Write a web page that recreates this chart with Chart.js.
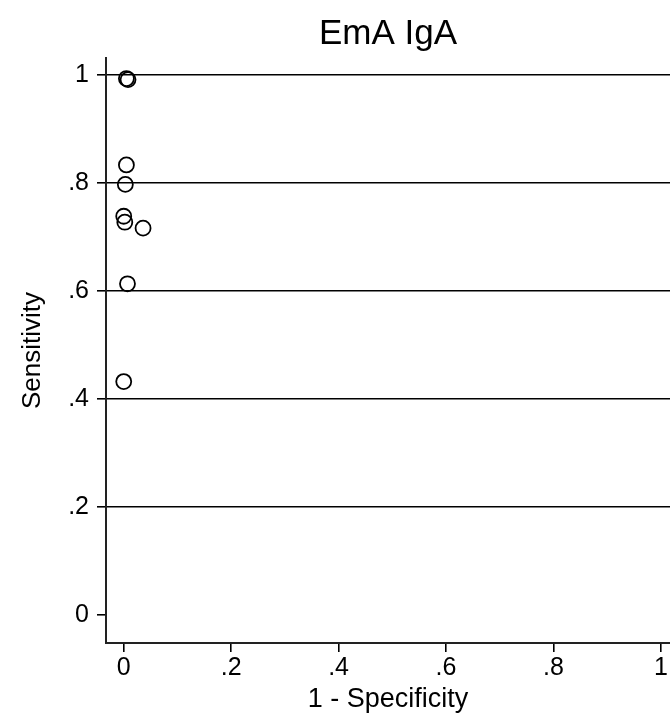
<!DOCTYPE html>
<html>
<head>
<meta charset="utf-8">
<script src="https://cdn.jsdelivr.net/npm/chart.js@4"></script>
<style>
  body { margin: 0; background: #fff; }
  canvas { display: block; }
</style>
</head>
<body>
<canvas id="roc-chart" width="670" height="717"></canvas>
<script>
// 1 - specificity (x) and sensitivity (y) of each study
const fpr = [0.005, 0.008, 0.005, 0.003, 0.0, 0.002, 0.036, 0.007, 0.0];
const sens = [0.993, 0.991, 0.833, 0.797, 0.738, 0.727, 0.716, 0.613, 0.432];

const tickVals = [0, 0.2, 0.4, 0.6, 0.8, 1];
const tickLabels = ["0", ".2", ".4", ".6", ".8", "1"];

const font = "'Liberation Sans', Arial, sans-serif";

ctx = document.querySelector("#roc-chart");
new Chart(ctx, {
    type: "scatter",
    data: {
        datasets: [
            {
                label: "EmA IgA",
                data: fpr.map((x, i) => ({ x: x, y: sens[i] })),
                pointStyle: "circle",
                pointRadius: 7.5,
                pointHoverRadius: 7.5,
                borderWidth: 1.8,
                borderColor: "#000",
                backgroundColor: "rgba(0,0,0,0)",
            },
        ],
    },
    options: {
        responsive: false,
        animation: false,
        layout: { padding: 0, autoPadding: false },
        plugins: {
            legend: { display: false },
            tooltip: { enabled: false },
            title: {
                display: true,
                text: "EmA IgA",
                fullSize: false,
                color: "#000",
                font: { family: font, size: 35, weight: "normal", lineHeight: 1 },
                padding: { top: 17, bottom: 6 },
            },
        },
        scales: {
            x: {
                type: "linear",
                min: -0.033,
                max: 1.017,
                afterBuildTicks: (s) => { s.ticks = tickVals.map((v) => ({ value: v })); },
                afterFit: (s) => { s.height = 74; },
                ticks: {
                    autoSkip: false,
                    maxRotation: 0,
                    padding: 1,
                    color: "#000",
                    font: { family: font, size: 25 },
                    callback: (v, i) => tickLabels[i],
                },
                grid: {
                    drawOnChartArea: false,
                    tickLength: 9,
                    tickColor: "#000",
                    lineWidth: 1.6,
                },
                border: { color: "#222", width: 2 },
                title: {
                    display: true,
                    text: "1 - Specificity",
                    color: "#000",
                    font: { family: font, size: 27 },
                    padding: { top: 0, bottom: 1 },
                },
            },
            y: {
                type: "linear",
                min: -0.052,
                max: 1.031,
                afterBuildTicks: (s) => { s.ticks = tickVals.map((v) => ({ value: v })); },
                afterFit: (s) => { s.width = 106; },
                ticks: {
                    autoSkip: false,
                    padding: 8,
                    color: "#000",
                    font: { family: font, size: 25 },
                    callback: (v, i) => tickLabels[i],
                },
                grid: {
                    color: (c) => (c.tick && c.tick.value === 0 ? "rgba(0,0,0,0)" : "#000"),
                    tickColor: "#000",
                    tickLength: 9,
                    lineWidth: 1.6,
                },
                border: { color: "#222", width: 2 },
                title: {
                    display: true,
                    text: "Sensitivity",
                    color: "#000",
                    font: { family: font, size: 26 },
                    padding: { top: 17, bottom: 0 },
                },
            },
        },
    },
});
</script>
</body>
</html>
